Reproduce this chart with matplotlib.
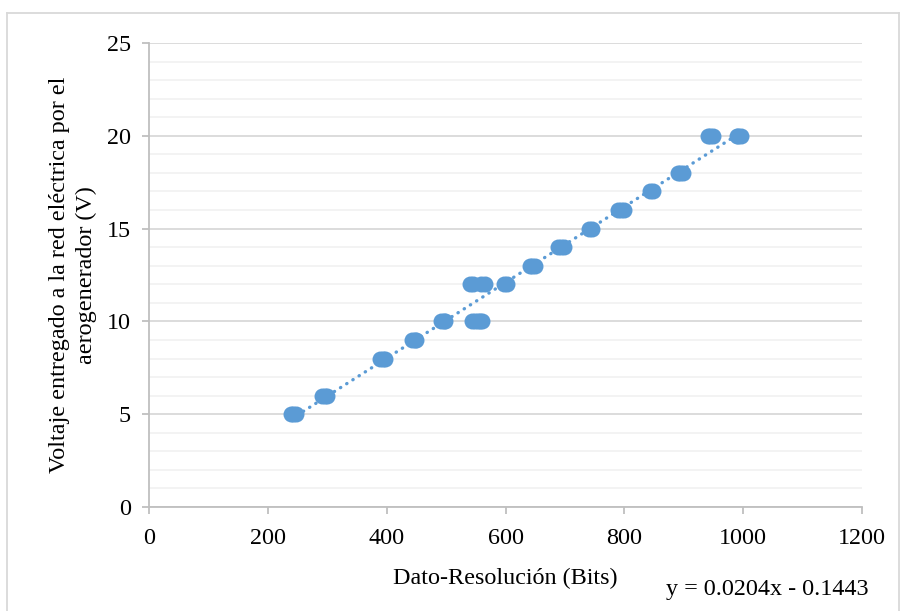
import matplotlib.pyplot as plt
import numpy as np
from matplotlib.lines import Line2D
from matplotlib.ticker import MultipleLocator

plt.rcParams['font.family'] = ['Liberation Serif', 'DejaVu Serif']

# datos (bits vs voltaje)
bits = [239, 243, 248, 291, 296, 300, 388, 393, 398, 443, 447, 450,
        492, 496, 499, 543, 548, 553, 557, 561,
        540, 546, 559, 565, 598, 603, 641, 645, 649,
        689, 694, 698, 741, 746, 790, 795, 799, 844, 848,
        890, 894, 898, 940, 944, 949, 989, 992, 996]
voltaje = [5, 5, 5, 6, 6, 6, 8, 8, 8, 9, 9, 9,
           10, 10, 10, 10, 10, 10, 10, 10,
           12, 12, 12, 12, 12, 12, 13, 13, 13,
           14, 14, 14, 15, 15, 16, 16, 16, 17, 17,
           18, 18, 18, 20, 20, 20, 20, 20, 20]

# linea de tendencia (ecuacion del grafico)
pendiente = 0.0204
intercepto = -0.1443

azul = '#5B9BD5'
fs = 17.4

fig = plt.figure(figsize=(9, 6.11), dpi=100)
ax = fig.add_axes([149/900, 1 - 507/611, (862-149)/900, (507-43)/611])

# trendline
xt = np.array([min(bits), max(bits)])
ax.plot(xt, pendiente*xt + intercepto, color=azul, linewidth=2.4,
        linestyle=(0, (0.1, 2.1)), dash_capstyle='round', zorder=2)

ax.plot(bits, voltaje, linestyle='none', marker='o', markersize=11.5,
        color=azul, markeredgewidth=0, zorder=3)

ax.set_xlim(0, 1200)
ax.set_ylim(0, 25)
ax.xaxis.set_major_locator(MultipleLocator(200))
ax.yaxis.set_major_locator(MultipleLocator(5))
ax.yaxis.set_minor_locator(MultipleLocator(1))

ax.grid(axis='y', which='major', color='#D9D9D9', linewidth=1.3, zorder=0)
ax.grid(axis='y', which='minor', color='#F2F2F2', linewidth=1.3, zorder=0)
ax.set_axisbelow(True)

for s in ['top', 'right']:
    ax.spines[s].set_visible(False)
for s in ['left', 'bottom']:
    ax.spines[s].set_color('#BFBFBF')
    ax.spines[s].set_linewidth(1.3)

ax.tick_params(which='major', length=5, width=1.3, color='#BFBFBF',
               labelsize=fs)
ax.tick_params(axis='x', pad=10)
ax.tick_params(axis='y', pad=8)
ax.tick_params(which='minor', length=0)

ax.set_xlabel('Dato-Resolución (Bits)', fontsize=fs, labelpad=14)
ax.set_ylabel('Voltaje entregado a la red eléctrica por el\naerogenerador (V)',
              fontsize=fs, linespacing=1.35, labelpad=7)

fig.text(767/900, 1 - 590/611, 'y = 0.0204x - 0.1443', fontsize=fs,
         ha='center', va='center')

# borde del area del grafico
bc = '#D9D9D9'
fig.add_artist(Line2D([7/900, 7/900], [0, 1 - 13/611], color=bc, linewidth=1.3))
fig.add_artist(Line2D([7/900, 899/900], [1 - 13/611, 1 - 13/611], color=bc, linewidth=1.3))
fig.add_artist(Line2D([899/900, 899/900], [0, 1 - 13/611], color=bc, linewidth=1.3))

fig.savefig('out.png', dpi=100)
